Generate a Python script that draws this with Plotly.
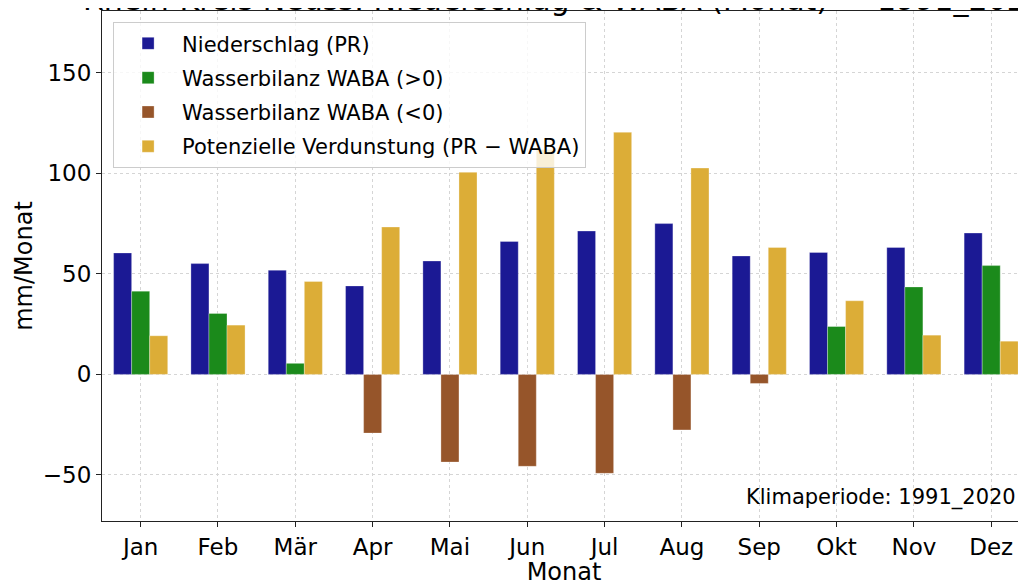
import plotly.graph_objects as go

MONTHS = ['Jan', 'Feb', 'Mär', 'Apr', 'Mai', 'Jun', 'Jul', 'Aug', 'Sep', 'Okt', 'Nov', 'Dez']
PR = [60.4, 55.1, 51.8, 44.0, 56.4, 66.1, 71.3, 75.0, 58.9, 60.6, 63.1, 70.3]
WABA = [41.4, 30.3, 5.5, -29.2, -43.6, -45.7, -49.2, -27.6, -4.5, 23.8, 43.5, 54.1]
PET = [19.2, 24.5, 46.2, 73.3, 100.5, 111.8, 120.4, 102.6, 63.1, 36.6, 19.5, 16.5]
PERIOD = '1991_2020'
TITLE = 'Rhein-Kreis Neuss: Niederschlag & WABA (Monat) — ' + PERIOD

waba_pos = [v if v > 0 else None for v in WABA]
waba_neg = [v if v < 0 else None for v in WABA]

FONT = 'DejaVu Sans'
edge = dict(color='rgba(255,255,255,0.6)', width=0.5)

fig = go.Figure()
fig.add_trace(go.Bar(x=MONTHS, y=PR, name='Niederschlag (PR)', offsetgroup='pr', legendgroup='a',
                     marker=dict(color='#1b1994', line=edge)))
fig.add_trace(go.Bar(x=MONTHS, y=waba_pos, name='Wasserbilanz WABA (>0)', offsetgroup='waba', legendgroup='b',
                     marker=dict(color='#1b8a1b', line=edge)))
fig.add_trace(go.Bar(x=MONTHS, y=waba_neg, name='Wasserbilanz WABA (<0)', offsetgroup='waba', legendgroup='c',
                     marker=dict(color='#96552a', line=edge)))
fig.add_trace(go.Bar(x=MONTHS, y=PET, name='Potenzielle Verdunstung (PR − WABA)', offsetgroup='pet', legendgroup='d',
                     marker=dict(color='#dcad37', line=edge)))

# title sits mostly above the visible page, as in the reference crop
fig.add_annotation(text=TITLE, xref='paper', yref='paper', x=0.5, y=1, xanchor='center', yanchor='bottom',
                   yshift=-8, showarrow=False, font=dict(family=FONT, size=30, color='black'))
fig.add_annotation(text='Klimaperiode: ' + PERIOD, xref='paper', yref='paper', x=0.991, y=0.018,
                   xanchor='right', yanchor='bottom', showarrow=False,
                   font=dict(family=FONT, size=21, color='black'))

# page body has an 8px margin, so the figure is 8px smaller than the window
fig.update_layout(
    width=1018, height=578,
    margin=dict(l=94, r=0, t=2.5, b=65),
    paper_bgcolor='white', plot_bgcolor='white',
    font=dict(family=FONT, color='black'),
    barmode='group', bargap=0.3, bargroupgap=0,
    legend=dict(x=0.012, y=0.978, xanchor='left', yanchor='top', bgcolor='rgba(255,255,255,0.8)',
                bordercolor='#cccccc', borderwidth=1, font=dict(size=21, family=FONT),
                itemwidth=58, tracegroupgap=4),
    showlegend=True,
)
fig.update_xaxes(range=[-0.5, 11.45], showline=True, linecolor='#222', linewidth=1.2, mirror=True,
                 ticks='outside', ticklen=5, tickcolor='#222', tickfont=dict(size=23), automargin=False,
                 showgrid=True, gridcolor='#d5d5d5', griddash='dot', gridwidth=1,
                 title=dict(text='Monat', font=dict(size=24), standoff=2))
fig.update_yaxes(range=[-72.9, 180.7], dtick=50, showline=True, linecolor='#222', linewidth=1.2, mirror=False,
                 ticks='outside', ticklen=5, tickcolor='#222', tickfont=dict(size=23), automargin=False,
                 showgrid=True, gridcolor='#d5d5d5', griddash='dot', gridwidth=1, zeroline=False,
                 title=dict(text='mm/Monat', font=dict(size=24), standoff=3))

fig.write_html("out.html")
